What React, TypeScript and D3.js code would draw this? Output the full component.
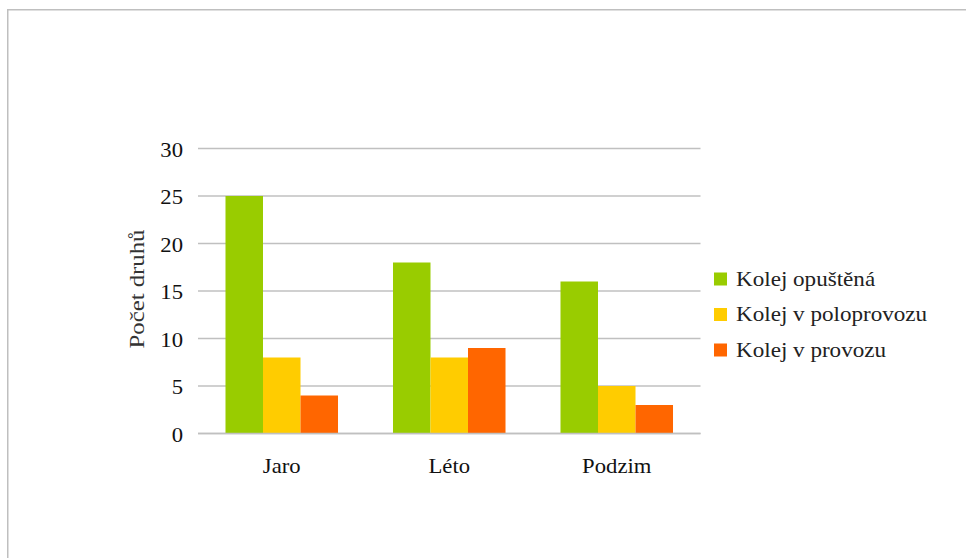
import React from "react";
import * as d3 from "d3";

const categories = ["Jaro", "Léto", "Podzim"];
const seriesNames = ["Kolej opuštěná", "Kolej v poloprovozu", "Kolej v provozu"];
const seriesColors = ["#99cc00", "#ffcc00", "#ff6600"];
const opustena = [25, 18, 16];
const poloprovoz = [8, 8, 5];
const provoz = [4, 9, 3];
const yTicks = [0, 5, 10, 15, 20, 25, 30];
const yLabel = "Počet druhů";

const seriesValues = [opustena, poloprovoz, provoz];

export default function App() {
  const W = 966, H = 558;
  const left = 198, right = 700.5, top = 148.5, bottom = 433.5;
  const x = d3.scaleBand<string>().domain(categories).range([left, right]).paddingInner(0).paddingOuter(0);
  const inner = d3.scaleBand<number>().domain(d3.range(seriesNames.length)).range([0, x.bandwidth()]).paddingOuter(0.733).paddingInner(0);
  const y = d3.scaleLinear().domain([0, 30]).range([bottom, top]);
  const fontStyle = { fontFamily: "Liberation Serif, Times New Roman, serif" };
  const sx = 1.08;
  return (
    <svg width={W} height={H} style={{ position: "fixed", left: 0, top: 0, background: "#fff", ...fontStyle }}>
      <rect x={0} y={0} width={W} height={H} fill="#fff" />
      <line x1={7.75} y1={9.75} x2={W} y2={9.75} stroke="#bfbfbf" strokeWidth={1.5} />
      <line x1={7.75} y1={9} x2={7.75} y2={H} stroke="#bfbfbf" strokeWidth={1.5} />
      {yTicks.map((t) => (
        <g key={t}>
          <line x1={left} x2={right} y1={y(t)} y2={y(t)} stroke="#c0c0c0" strokeWidth={1.5} />
          <text transform={`translate(183,${y(t) + 8}) scale(${sx},1)`} textAnchor="end" fontSize={21} fill="#111" style={fontStyle}>{t}</text>
        </g>
      ))}
      {categories.map((c, ci) => (
        <g key={c}>
          {seriesValues.map((vals, si) => (
            <rect key={si} x={(x(c) as number) + (inner(si) as number)} width={inner.bandwidth()} y={y(vals[ci])} height={y(0) - y(vals[ci])} fill={seriesColors[si]} />
          ))}
          <text transform={`translate(${(x(c) as number) + x.bandwidth() / 2},473) scale(${sx},1)`} textAnchor="middle" fontSize={21} fill="#111" style={fontStyle}>{c}</text>
        </g>
      ))}
      <line x1={left} x2={right} y1={y(0)} y2={y(0)} stroke="#c0c0c0" strokeWidth={1.5} />
      <text transform={`translate(144,289) rotate(-90) scale(1.18,1)`} textAnchor="middle" fontSize={21} fill="#333" style={fontStyle}>{yLabel}</text>
      {seriesNames.map((n, i) => (
        <g key={n} transform={`translate(714,${285.5 + i * 35.5})`}>
          <rect x={0} y={-13} width={13} height={13} fill={seriesColors[i]} />
          <text transform={`translate(22,0) scale(1.1,1)`} fontSize={21} fill="#222" style={fontStyle}>{n}</text>
        </g>
      ))}
    </svg>
  );
}
